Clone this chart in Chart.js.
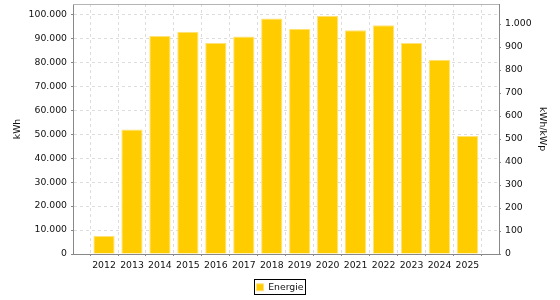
<!DOCTYPE html>
<html><head><meta charset="utf-8">
<script src="https://cdn.jsdelivr.net/npm/chart.js@4.4.0/dist/chart.umd.min.js"></script>
<style>html,body{margin:0;padding:0;background:#fff}#wrap{width:560px;height:300px}</style>
</head><body><div id="wrap"><canvas id="c" width="560" height="300"></canvas></div>
<script>
const years = [2012, 2013, 2014, 2015, 2016, 2017, 2018, 2019, 2020, 2021, 2022, 2023, 2024, 2025];
const energy = [7500, 51900, 91000, 92750, 88000, 90700, 98300, 94000, 99400, 93300, 95400, 88000, 81000, 49200];
const leftTicks = [0, 10000, 20000, 30000, 40000, 50000, 60000, 70000, 80000, 90000, 100000];
const rightTicks = [0, 100, 200, 300, 400, 500, 600, 700, 800, 900, 1000];
const seriesName = 'Energie';
const leftTitle = 'kWh';
const rightTitle = 'kWh/kWp';

const fmt = v => String(v).replace(/\B(?=(\d{3})+(?!\d))/g, '.');
const FONT = {family: 'DejaVu Sans', size: 9.3};
const TXT = '#111';

const frame = {
  id: 'frame',
  afterDraw(chart) {
    const {ctx, chartArea: a} = chart;
    ctx.save();
    ctx.strokeStyle = '#b4b4b4';
    ctx.lineWidth = 1;
    ctx.beginPath();
    ctx.moveTo(a.left, Math.round(a.top) + 0.5);
    ctx.lineTo(a.right, Math.round(a.top) + 0.5);
    ctx.stroke();
    const hb = chart.legend && chart.legend.legendHitBoxes && chart.legend.legendHitBoxes[0];
    if (hb) {
      const cy = hb.top + hb.height / 2;
      ctx.strokeStyle = '#000';
      ctx.strokeRect(Math.round(hb.left - 3) + 0.5, Math.round(cy - 8) + 0.5, Math.round(hb.width + 4), 15);
    }
    ctx.restore();
  }
};

new Chart(document.getElementById('c'), {
  type: 'bar',
  data: {
    datasets: [{
      label: seriesName,
      data: years.map((y, i) => ({x: y, y: energy[i]})),
      backgroundColor: '#ffcc00',
      borderColor: '#ffe27a',
      borderWidth: 1,
      barPercentage: 0.76,
      categoryPercentage: 1,
      xAxisID: 'x',
      yAxisID: 'y'
    }]
  },
  options: {
    responsive: false,
    animation: false,
    devicePixelRatio: 1,
    layout: {padding: {top: 4, left: 0, right: 0, bottom: 0}},
    scales: {
      x: {
        type: 'linear', min: 2010.89, max: 2026.13, offset: false,
        afterBuildTicks: s => { s.ticks = years.map(v => ({value: v})); },
        afterFit: s => { s.height = 16; s.paddingLeft = 0; s.paddingRight = 0; },
        ticks: {callback: v => String(v), font: FONT, color: TXT, padding: 4, maxRotation: 0, autoSkip: false},
        grid: {color: '#dddddd', tickLength: 2, tickColor: '#888', tickBorderDash: []},
        border: {color: '#888', dash: [3, 3]}
      },
      y: {
        type: 'linear', position: 'left', min: 0, max: 104300,
        afterBuildTicks: s => { s.ticks = leftTicks.map(v => ({value: v})); },
        afterFit: s => { s.width = 73; s.paddingTop = 0; s.paddingBottom = 0; },
        ticks: {callback: v => fmt(v), font: FONT, color: TXT, padding: 4},
        grid: {color: '#dddddd', tickLength: 2, tickColor: '#888', tickBorderDash: []},
        border: {color: '#888', dash: [3, 3]},
        title: {display: true, text: leftTitle, font: FONT, color: TXT, padding: {top: 11.7, bottom: 0}}
      },
      y1: {
        type: 'linear', position: 'right', min: 0, max: 1087,
        afterBuildTicks: s => { s.ticks = rightTicks.map(v => ({value: v})); },
        afterFit: s => { s.width = 61; s.paddingTop = 0; s.paddingBottom = 0; },
        ticks: {callback: v => fmt(v), font: FONT, color: TXT, padding: 4},
        grid: {drawOnChartArea: false, tickLength: 2, tickColor: '#888', tickBorderDash: []},
        border: {color: '#888'},
        title: {display: true, text: rightTitle, font: FONT, color: TXT, padding: {top: 12, bottom: 0}}
      }
    },
    plugins: {
      legend: {
        display: true, position: 'bottom', maxHeight: 30,
        labels: {font: FONT, color: TXT, boxWidth: 7, boxHeight: 7, padding: 12.65}
      },
      tooltip: {enabled: false}
    }
  },
  plugins: [frame]
});
</script>
</body></html>
